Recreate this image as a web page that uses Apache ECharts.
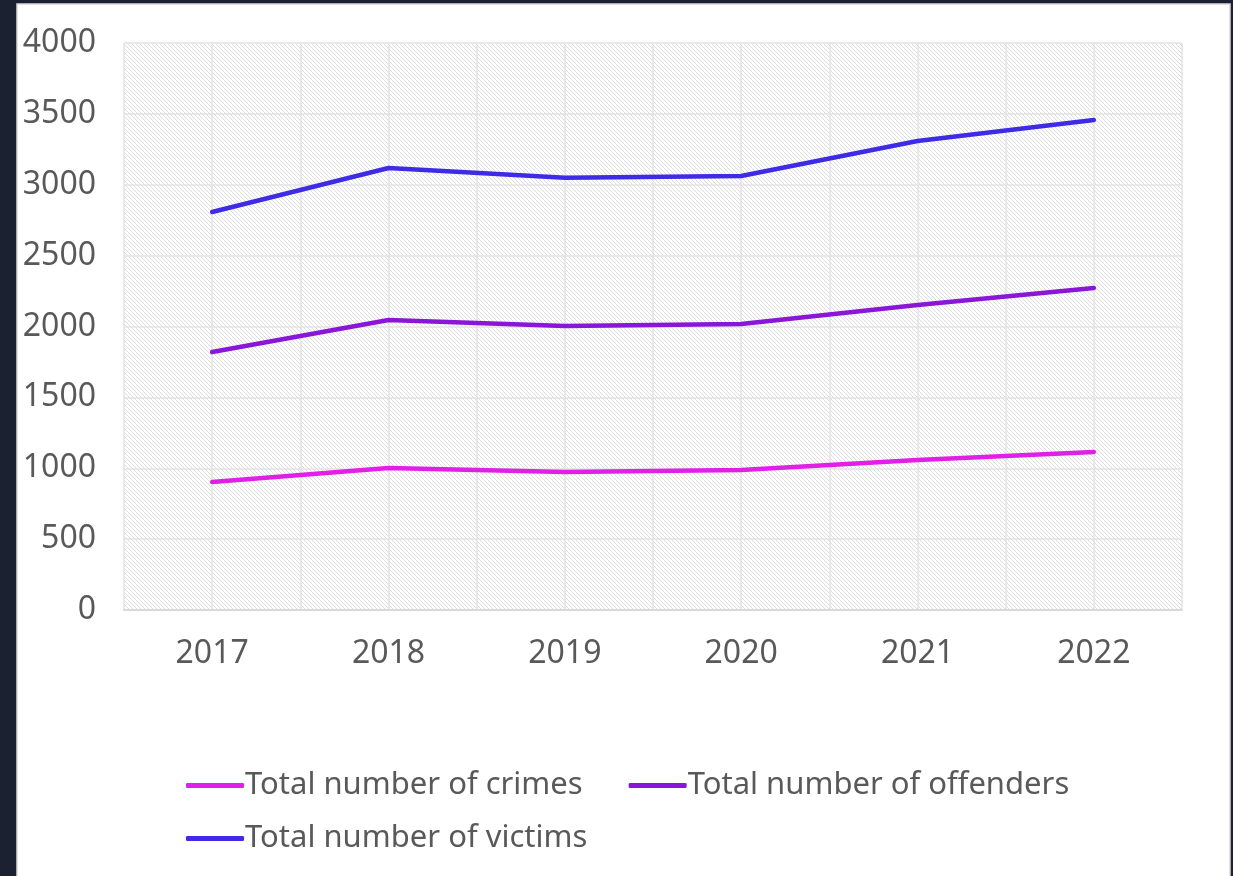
<!DOCTYPE html>
<html>
<head>
<meta charset="utf-8">
<script src="https://cdn.jsdelivr.net/npm/echarts@6/dist/echarts.min.js"></script>
<style>
html,body{margin:0;padding:0;background:#1b2130;}
#chart{width:1233px;height:876px;}
</style>
</head>
<body>
<div id="chart"></div>
<script>
const years = ['2017','2018','2019','2020','2021','2022'];
const crimes = [903, 1002, 974, 988, 1058, 1115];
const offenders = [1820, 2046, 2004, 2018, 2152, 2272];
const victims = [2808, 3118, 3050, 3062, 3309, 3457];
const seriesNames = ['Total number of crimes','Total number of offenders','Total number of victims'];
const colors = ['#e020e6','#8a16d8','#3f2ae6'];

// hatch pattern
const pc = document.createElement('canvas');
pc.width = 4; pc.height = 4;
const pctx = pc.getContext('2d');
pctx.fillStyle = '#ffffff'; pctx.fillRect(0,0,4,4);
pctx.fillStyle = '#dddddd';
for (let i=0;i<4;i++){ pctx.fillRect(i,i,1,1); }

const chart = echarts.init(document.getElementById('chart'), null, {renderer:'canvas'});
const font = '"Noto Sans", sans-serif';
const txt = '#595959';
const seriesData = [crimes, offenders, victims];
chart.setOption({
  backgroundColor: '#1b2130',
  animation: false,
  graphic: [
    {type:'rect', z:-10, shape:{x:17,y:4,width:1213,height:880}, style:{fill:'#ffffff', stroke:'#d9d9d9', lineWidth:1.5}}
  ],
  grid: {left:124, top:43, width:1058, height:567, show:true, backgroundColor:{image:pc, repeat:'repeat'}, borderWidth:0},
  legend: [
    {left:181, top:765, itemWidth:58, itemHeight:5, itemGap:46, icon:'roundRect',
     textStyle:{fontFamily:font, fontSize:31, color:txt, padding:[0,0,0,-4]},
     data:[seriesNames[0], seriesNames[1]]},
    {left:181, top:818, itemWidth:58, itemHeight:5, icon:'roundRect',
     textStyle:{fontFamily:font, fontSize:31, color:txt, padding:[0,0,0,-4]},
     data:[seriesNames[2]]}
  ],
  xAxis: [
    {type:'category', data:years, boundaryGap:true,
     axisLine:{show:true, lineStyle:{color:'#d9d9d9', width:2}},
     axisTick:{show:false}, splitLine:{show:false},
     axisLabel:{fontFamily:font, fontSize:32, color:txt, margin:28}},
    {type:'value', min:0, max:12, interval:1, position:'bottom',
     axisLine:{show:false}, axisTick:{show:false}, axisLabel:{show:false},
     splitLine:{show:true, lineStyle:{color:'#e3e3e3', width:1.5}}}
  ],
  yAxis: {type:'value', min:0, max:4000, interval:500,
    axisLine:{show:false}, axisTick:{show:false},
    axisLabel:{fontFamily:font, fontSize:32, color:txt, margin:28, padding:[4,0,0,0], formatter:function(v){return String(v);}},
    splitLine:{show:true, lineStyle:{color:'#e3e3e3', width:1.5}}},
  series: seriesNames.map((n,i)=>({
    name:n, type:'line', xAxisIndex:0, data:seriesData[i], symbol:'none',
    itemStyle:{color:colors[i]},
    lineStyle:{color:colors[i], width:4.5, cap:'round', join:'round'}
  }))
});
</script>
</body>
</html>
